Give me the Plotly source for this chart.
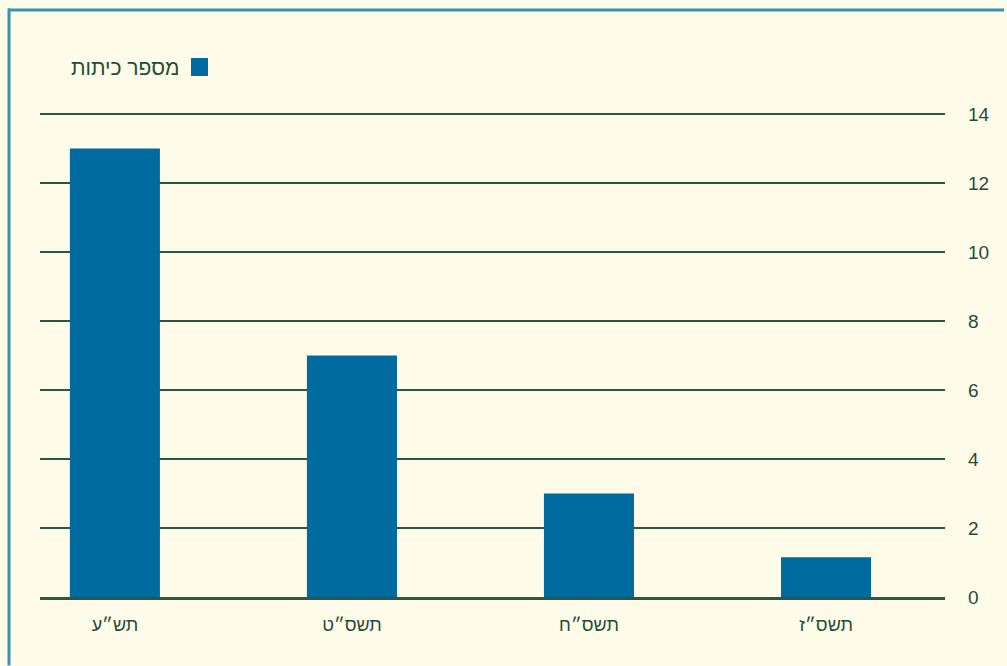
import plotly.graph_objects as go

categories = ["תש״ע", "תשס״ט", "תשס״ח", "תשס״ז"]
values = [13, 7, 3, 1.15]
series_name = "מספר כיתות"
y_ticks = [0, 2, 4, 6, 8, 10, 12, 14]

W, H = 1007, 666
L, R, T, B = 40, 62, 113, 69
pw, ph = W - L - R, H - T - B

def px(x):
    return (x - L) / pw

def py(y):
    return (H - B - y) / ph

bar_color = "#016B9F"
text_color = "#1E4D3A"
grid_color = "#2A5842"
bg = "#FEFBE8"
frame_color = "#3A92B3"

fig = go.Figure()
fig.add_trace(go.Bar(
    x=categories, y=values, name=series_name,
    marker=dict(color=bar_color, line=dict(width=0)),
    width=0.38, showlegend=False,
))

fig.update_layout(
    width=W, height=H,
    margin=dict(l=L, r=R, t=T, b=B),
    paper_bgcolor=bg, plot_bgcolor=bg,
    font=dict(family="Liberation Sans, DejaVu Sans, sans-serif", size=18, color=text_color),
    xaxis=dict(
        type="category", range=[-0.316, 3.502],
        showgrid=False, showline=True, linecolor=grid_color, linewidth=2.5,
        ticks="", ticklabelstandoff=10,
        tickfont=dict(size=18, color=text_color),
    ),
    yaxis=dict(
        side="right", range=[0, 14.03], tickvals=y_ticks,
        showgrid=True, gridcolor=grid_color, gridwidth=1.5,
        zeroline=False, showline=False, ticks="",
        ticklabelstandoff=22,
        tickfont=dict(size=19, color=text_color),
    ),
    bargap=0.6,
)

# frame border (top and left edges visible)
fig.add_shape(type="rect", xref="paper", yref="paper",
              x0=px(8), x1=px(1004), y0=py(8.5), y1=py(11.5),
              line=dict(width=0), fillcolor=frame_color, layer="below")
fig.add_shape(type="rect", xref="paper", yref="paper",
              x0=px(7.5), x1=px(10.5), y0=py(8.5), y1=py(H - 0.5),
              line=dict(width=0), fillcolor=frame_color, layer="below")

# legend (symbol on the right of text, RTL style)
fig.add_shape(type="rect", xref="paper", yref="paper",
              x0=px(191), x1=px(208), y0=py(58), y1=py(76),
              line=dict(width=0), fillcolor=bar_color)
fig.add_annotation(xref="paper", yref="paper", x=px(181), y=py(67),
                   text=series_name, showarrow=False, xanchor="right", yanchor="middle",
                   font=dict(size=21, color=text_color))

fig.write_html(
    "out.html",
    config={"displayModeBar": False},
    post_script=("document.body.style.margin='0';"
                 "document.body.style.background='#FEFBE8';"
                 "document.documentElement.style.overflow='hidden';"),
)
